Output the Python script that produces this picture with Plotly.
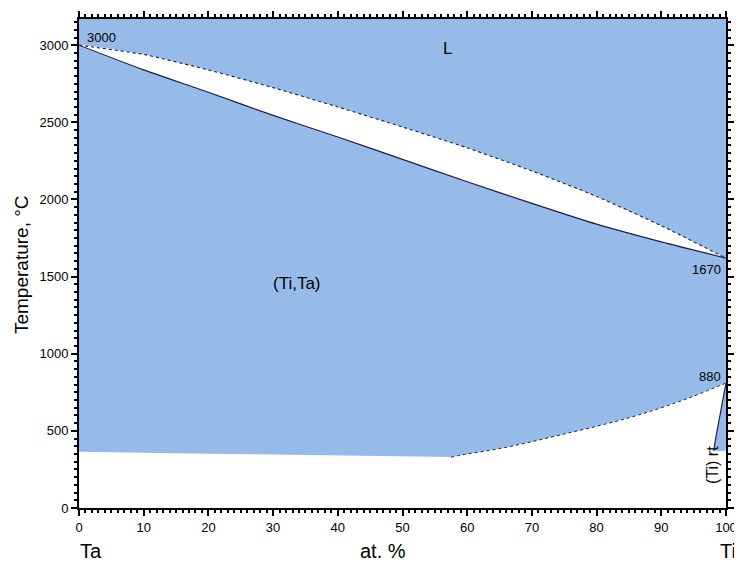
import plotly.graph_objects as go

# ---- data ----
liq_x = [0, 10, 20, 30, 40, 50, 60, 70, 80, 90, 100]
liq_t = [3000, 2940, 2840, 2725, 2600, 2470, 2335, 2185, 2020, 1830, 1620]
sol_x = [0, 10, 20, 30, 40, 50, 60, 70, 80, 90, 100]
sol_t = [3000, 2840, 2695, 2545, 2405, 2260, 2115, 1975, 1840, 1725, 1620]
base_x = [0, 20, 40, 57.5]
base_t = [365, 352, 340, 330]
solv_x = [57.5, 60, 65, 70, 75, 80, 85, 90, 95, 100]
solv_t = [330, 350, 385, 430, 480, 530, 585, 650, 725, 810]
rt_x = [100, 99.6, 99.2, 98.8, 98.4, 98.1]
rt_t = [810, 720, 630, 540, 450, 370]

x_ticks = [0, 10, 20, 30, 40, 50, 60, 70, 80, 90, 100]
y_ticks = [0, 500, 1000, 1500, 2000, 2500, 3000]

BLUE = "#97bbe9"
LINE = "#1b1f4d"
FONT = "Liberation Sans, Arial, sans-serif"

fig = go.Figure()

# white two-phase lens (L + solid)
fig.add_trace(go.Scatter(
    x=liq_x + sol_x[::-1], y=liq_t + sol_t[::-1],
    fill="toself", fillcolor="white", mode="lines",
    line=dict(width=0, shape="spline", smoothing=0.6), hoverinfo="skip", showlegend=False))

# white low-temperature region
low_x = [0] + base_x + solv_x[1:] + rt_x[1:] + [100, 100]
low_t = [0] + base_t + solv_t[1:] + rt_t[1:] + [rt_t[-1], 0]
fig.add_trace(go.Scatter(
    x=low_x, y=low_t, fill="toself", fillcolor="white", mode="lines",
    line=dict(width=0), hoverinfo="skip", showlegend=False))

# boundary lines
fig.add_trace(go.Scatter(x=liq_x, y=liq_t, mode="lines",
                         line=dict(color=LINE, width=1.1, shape="spline", smoothing=0.6, dash="dot"),
                         hoverinfo="skip", showlegend=False))
fig.add_trace(go.Scatter(x=sol_x, y=sol_t, mode="lines",
                         line=dict(color=LINE, width=1.2, shape="spline", smoothing=0.6),
                         hoverinfo="skip", showlegend=False))
fig.add_trace(go.Scatter(x=solv_x, y=solv_t, mode="lines",
                         line=dict(color=LINE, width=1, shape="spline", dash="dot"),
                         hoverinfo="skip", showlegend=False))
fig.add_trace(go.Scatter(x=rt_x, y=rt_t, mode="lines", line=dict(color=LINE, width=1.2, shape="spline"),
                         hoverinfo="skip", showlegend=False))

ann = []
def txt(x, y, s, size, xanchor="center", yanchor="middle", angle=0, xref="x", yref="y"):
    ann.append(dict(x=x, y=y, text=s, showarrow=False, xref=xref, yref=yref,
                    xanchor=xanchor, yanchor=yanchor, textangle=angle,
                    font=dict(family=FONT, size=size, color="black")))

txt(1.0, 3050, "3000", 13, xanchor="left")
txt(99.6, 1545, "1670", 13, xanchor="right")
txt(99.6, 850, "880", 13, xanchor="right")
txt(56.9, 2980, "L", 17)
txt(33.7, 1458, "(Ti,Ta)", 17)
txt(98.0, 279, "(Ti) rt", 16, angle=-90)
txt(0.0185, -0.088, "Ta", 20, xref="paper", yref="paper")
txt(0.47, -0.088, "at. %", 20, xref="paper", yref="paper")
txt(1.003, -0.088, "Ti", 20, xref="paper", yref="paper")
txt(-0.088, 0.497, "Temperature, °C", 19, angle=-90, xref="paper", yref="paper")

axis_common = dict(showgrid=False, zeroline=False, showline=True, linecolor="black", linewidth=2,
                   mirror="ticks", ticks="outside", tickcolor="black", tickwidth=2, automargin=False,
                   tickfont=dict(family=FONT, size=13, color="black"))

fig.update_layout(
    width=734, height=564,
    margin=dict(l=71, r=16, t=11, b=64, autoexpand=False),
    paper_bgcolor="white", plot_bgcolor=BLUE,
    annotations=ann,
    xaxis=dict(range=[0, 100], tickvals=x_ticks, ticklen=6,
               minor=dict(dtick=1, ticklen=3, ticks="outside", tickcolor="black", tickwidth=1.5),
               **axis_common),
    yaxis=dict(range=[0, 3170], tickvals=y_ticks, ticklen=6,
               minor=dict(dtick=50, ticklen=3, ticks="outside", tickcolor="black", tickwidth=1.5),
               **axis_common),
)

fig.write_html("out.html", config={"responsive": False})
